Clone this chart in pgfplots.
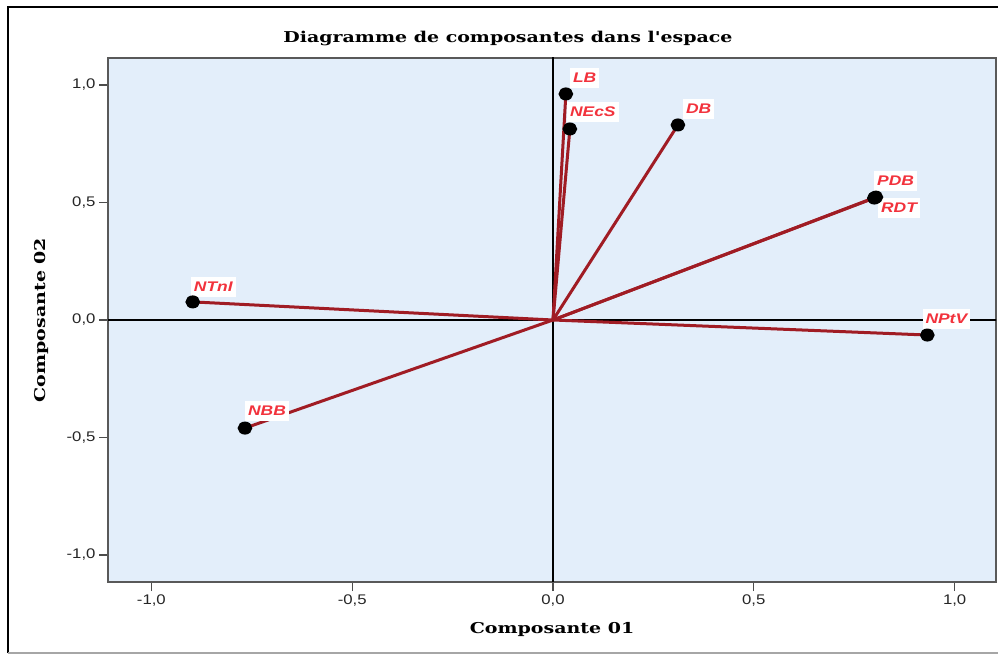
\documentclass[border=0pt]{standalone}
\usepackage{pgfplots}
\pgfplotsset{compat=1.18}
\usepackage{fontspec}
\setmainfont{Liberation Sans}[FakeStretch=1.2]
\newfontfamily\labfont{Liberation Sans}[FakeStretch=1.25]
\newfontfamily\serifb{DejaVu Serif}[FakeStretch=1.27]
\definecolor{plotbg}{RGB}{227,238,250}
\definecolor{vec}{RGB}{160,28,36}
\definecolor{labred}{RGB}{242,50,60}
\begin{document}
\begin{tikzpicture}
\begin{axis}[
  scale only axis, width=888bp, height=524bp,
  xmin=-1.108, xmax=1.103, ymin=-1.115, ymax=1.115,
  xtick={-1,-0.5,0,0.5,1}, ytick={-1,-0.5,0,0.5,1},
  xtick pos=lower, ytick pos=left,
  tick align=outside, major tick length=9bp,
  tick style={draw=black!70, line width=1.2bp},
  axis line style={draw=black!65, line width=1.2bp},
  axis background/.style={fill=plotbg},
  ticklabel style={font=\fontsize{14}{16}\selectfont, text=black!85},
  vecline/.style={vec, line width=3bp, mark=*, mark indices={2}, mark size=5bp, mark options={solid, fill=black, draw=black, xscale=1.15}},
  /pgf/number format/.cd, fixed, fixed zerofill, precision=1, use comma, assume math mode=true,
]
\draw[black, line width=1.6bp] (axis cs:0,-1.2) -- (axis cs:0,1.2);
\draw[black, line width=1.6bp] (axis cs:-1.2,0) -- (axis cs:1.2,0);
\addplot[vecline] coordinates {(0,0) (0.032,0.962)};
\addplot[vecline] coordinates {(0,0) (0.042,0.813)};
\addplot[vecline] coordinates {(0,0) (0.311,0.830)};
\addplot[vecline] coordinates {(0,0) (0.804,0.523)};
\addplot[vecline] coordinates {(0,0) (0.800,0.519)};
\addplot[vecline] coordinates {(0,0) (0.932,-0.064)};
\addplot[vecline] coordinates {(0,0) (-0.897,0.077)};
\addplot[vecline] coordinates {(0,0) (-0.767,-0.460)};
\tikzset{lab/.style={fill=white, text=labred, inner xsep=3bp, inner ysep=1.5bp, text height=13bp, text depth=4bp, font=\labfont\bfseries\itshape\fontsize{14}{16}\selectfont}}
\node[lab, anchor=south west, xshift=4bp, yshift=6bp] at (axis cs:0.032,0.962) {LB};
\node[lab, anchor=south west, xshift=-3bp, yshift=7bp] at (axis cs:0.042,0.813) {NEcS};
\node[lab, anchor=south west, xshift=5bp, yshift=6bp] at (axis cs:0.311,0.830) {DB};
\node[lab, anchor=south west, xshift=-2bp, yshift=6bp] at (axis cs:0.804,0.523) {PDB};
\node[lab, anchor=north west, xshift=2bp, yshift=-1bp] at (axis cs:0.804,0.523) {RDT};
\node[lab, anchor=south west, xshift=-5bp, yshift=6bp] at (axis cs:0.932,-0.064) {NPtV};
\node[lab, anchor=south west, xshift=-2bp, yshift=5bp] at (axis cs:-0.897,0.077) {NTnI};
\node[lab, anchor=south west, xshift=0bp, yshift=7bp] at (axis cs:-0.767,-0.460) {NBB};
\end{axis}
\node[font=\serifb\bfseries\fontsize{15}{18}\selectfont] at (400bp,544bp) {Diagramme de composantes dans l'espace};
\node[font=\serifb\bfseries\fontsize{15}{18}\selectfont] at (444bp,-48bp) {Composante 01};
\node[font=\serifb\bfseries\fontsize{15}{18}\selectfont, rotate=90] at (-66bp,262bp) {Composante 02};
\draw[black, line width=2bp] (-100bp,-71bp) -- (-100bp,575bp) -- (892bp,575bp);
\draw[black!35, line width=1.5bp] (-100bp,-71bp) -- (892bp,-71bp);
\pgfresetboundingbox
\path[use as bounding box] (-108bp,-73bp) rectangle (890bp,582bp);
\end{tikzpicture}
\end{document}
